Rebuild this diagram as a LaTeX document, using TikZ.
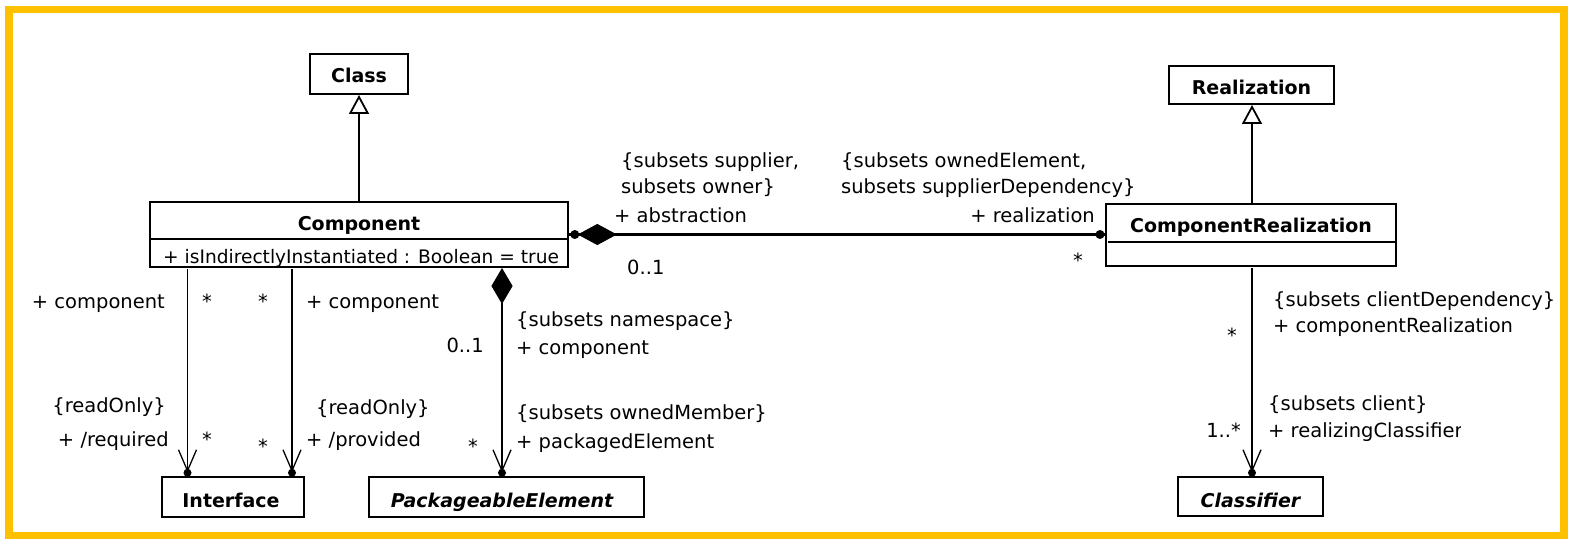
\documentclass[tikz,border=0pt]{standalone}
\usepackage{fontspec}
\setmainfont{DejaVu Sans}
\usetikzlibrary{arrows.meta}
\definecolor{frameyellow}{RGB}{255,192,0}
\newcommand\navend[1]{%
  \fill (#1) ++(0,-3) circle (4pt);
  \draw[line width=1.3pt] ([shift={(-9,-26)}]#1) -- ([shift={(0,-5)}]#1) -- ([shift={(9,-26)}]#1);}
\tikzset{
  yframe/.style={draw=frameyellow, line width=7.5pt},
  boxn/.style={draw, line width=2pt, inner sep=0pt, fill=white},
  lbl/.style={inner sep=0pt, font=\fontsize{19.5}{23}\selectfont},
  ttl/.style={inner sep=0pt, font=\fontsize{19}{23}\selectfont\bfseries},
  ittl/.style={inner sep=0pt, font=\fontsize{19}{23}\selectfont\bfseries\itshape},
  assocline/.style={line width=2.6pt},
  thinline/.style={line width=1.2pt},
  gen/.style={line width=2.6pt, -{Triangle[open, length=19pt, width=20pt, line width=1.8pt]}},
}
\begin{document}
\begin{tikzpicture}[x=1pt,y=-1pt]
\useasboundingbox (0,0) rectangle (1589,553);
\draw[yframe] (9,9.5) rectangle (1564,535.5);

% boxes
\node[boxn, minimum width=98, minimum height=40] (class) at (359,74) {};
\node[boxn, line width=1.6pt, minimum width=418, minimum height=65] (comp) at (359,234.5) {};
\draw[line width=2.5pt] (150,239) -- (568,239);
\node[boxn, line width=2.5pt, minimum width=142, minimum height=40] (iface) at (233,497) {};
\node[boxn, line width=2.5pt, minimum width=275, minimum height=40] (pe) at (506.5,497) {};
\node[boxn, minimum width=165, minimum height=38] (real) at (1251.5,85) {};
\node[boxn, minimum width=290, minimum height=62] (cr) at (1251,235) {};
\draw[line width=2.5pt] (1108,242) -- (1396,242);
\node[boxn, line width=2.5pt, minimum width=145, minimum height=39] (clsf) at (1250.5,496.5) {};

% box texts
\node[ttl, anchor=base] (classL) at (359,83) {Class};
\node[ttl, anchor=base] (compL) at (359,231) {Component};
\node[lbl, anchor=base west, font=\fontsize{18.6}{22}\selectfont] (attr) at (163,263) {+ isIndirectlyInstantiated : Boolean = true};
\node[ttl, anchor=base] (realL) at (1251.5,95) {Realization};
\node[ttl, anchor=base] (crL) at (1251,233) {ComponentRealization};
\node[ttl, anchor=base] (ifaceL) at (231,507) {Interface};
\node[ittl, anchor=base] (peL) at (502,507) {PackageableElement};
\node[ittl, anchor=base] (clsfL) at (1250.5,507) {Classifier};

% generalizations
\draw[gen] (comp.north -| class.south) -- (class.south);
\coordinate (crtop) at (1252,204);
\draw[gen] (crtop) -- (crtop |- real.south);

% Component -- ComponentRealization
\draw[assocline] (comp.east) -- (comp.east -| cr.west);
\fill ([xshift=6pt]comp.east) circle (4.5pt);
\draw[fill=black, line width=1pt] ([xshift=10pt]comp.east) -- ++(18.5,-10) -- ++(18.5,10) -- ++(-18.5,10) -- cycle;
\fill ([xshift=-5pt]comp.east -| cr.west) circle (4.5pt);

% required / provided
\coordinate (reqtop) at (187.5,269);
\coordinate (reqend) at (reqtop |- iface.north);
\draw[thinline] (reqtop) -- (reqend);
\navend{reqend}
\coordinate (provtop) at (292,269);
\coordinate (provend) at (provtop |- iface.north);
\draw[assocline] (provtop) -- (provend);
\navend{provend}

% packaged element
\coordinate (pkgtop) at (502,269);
\coordinate (pkgend) at (pkgtop |- pe.north);
\draw[fill=black, line width=1pt] (pkgtop) -- ++(10,17) -- ++(-10,17) -- ++(-10,-17) -- cycle;
\draw[assocline] ([yshift=-34pt]pkgtop) -- (pkgend);
\navend{pkgend}

% realizing classifier
\coordinate (crbot) at (1252,268);
\coordinate (clsfend) at (crbot |- clsf.north);
\draw[assocline] (crbot) -- (clsfend);
\navend{clsfend}

% labels left
\node[lbl, anchor=base east] (l1) at (165,308) {+ component};
\node[lbl, anchor=base] (l2) at (207,308) {*};
\node[lbl, anchor=base] (l3) at (263,308) {*};
\node[lbl, anchor=base west] (l4) at (306,308) {+ component};
\node[lbl, anchor=base east] (l5) at (166,412) {\{readOnly\}};
\node[lbl, anchor=base east] (l6) at (169,446) {+ /required};
\node[lbl, anchor=base] (l7) at (207,446) {*};
\node[lbl, anchor=base] (l8) at (263,453) {*};
\node[lbl, anchor=base west] (l9) at (316,414) {\{readOnly\}};
\node[lbl, anchor=base west] (l10) at (306,446) {+ /provided};
\node[lbl, anchor=base east] (l11) at (484,352) {0..1};
\node[lbl, anchor=base west] (l12) at (516,326) {\{subsets namespace\}};
\node[lbl, anchor=base west] (l13) at (516,354) {+ component};
\node[lbl, anchor=base west] (l14) at (516,419) {\{subsets ownedMember\}};
\node[lbl, anchor=base west] (l15) at (516,448) {+ packagedElement};
\node[lbl, anchor=base] (l16) at (473,453) {*};

% labels middle
\node[lbl, anchor=base west] (m1) at (621,168) {\{subsets supplier,};
\node[lbl, anchor=base west] (m2) at (621,194) {subsets owner\}};
\node[lbl, anchor=base west] (m3) at (614,223) {+ abstraction};
\node[lbl, anchor=base west] (m4) at (627,274) {0..1};
\node[lbl, anchor=base west] (m5) at (841,168) {\{subsets ownedElement,};
\node[lbl, anchor=base west] (m6) at (841,194) {subsets supplierDependency\}};
\node[lbl, anchor=base east] (m7) at (1095,223) {+ realization};
\node[lbl, anchor=base] (m8) at (1078,268) {*};

% labels right
\node[lbl, anchor=base west] (r1) at (1273,306) {\{subsets clientDependency\}};
\node[lbl, anchor=base west] (r2) at (1273,332) {+ componentRealization};
\node[lbl, anchor=base] (r3) at (1232,342) {*};
\node[lbl, anchor=base west] (r4) at (1268,410) {\{subsets client\}};
\begin{scope}
  \clip (1260,415) rectangle (1460,445);
  \node[lbl, anchor=base west] (r5) at (1268,437) {+ realizingClassifier};
\end{scope}
\node[lbl, anchor=base east] (r6) at (1241,437) {1..*};
\end{tikzpicture}
\end{document}
